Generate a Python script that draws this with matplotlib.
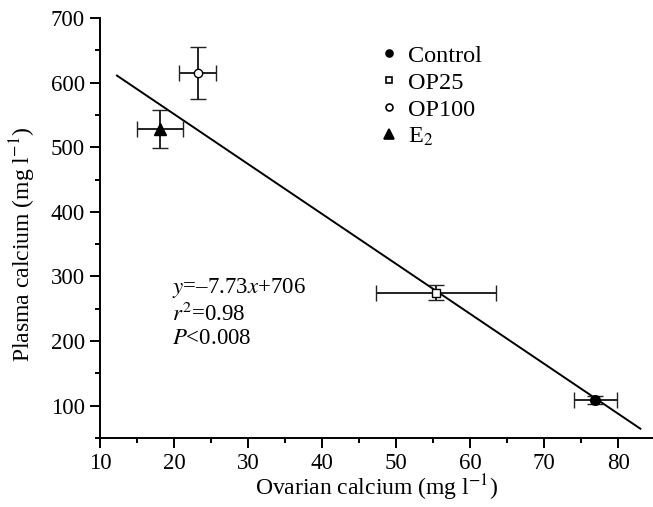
import matplotlib
matplotlib.use("Agg")
import matplotlib.pyplot as plt
from matplotlib.ticker import MultipleLocator
from matplotlib.lines import Line2D

plt.rcParams['font.family'] = ['Liberation Serif', 'DejaVu Serif']
plt.rcParams['mathtext.fontset'] = 'stix'

# group means and errors
groups = ["Control", "OP25", "OP100", "E$_2$"]
ovarian = [76.9, 55.4, 23.2, 18.1]
ovarian_err = [2.9, 8.1, 2.5, 3.1]
plasma = [109, 275, 615, 528]
plasma_err = [6, 12, 40, 29]
markers = ["o", "s", "o", "^"]
filled = [True, False, False, True]
sizes = [7, 5.5, 6, 8]

# regression line
slope, intercept = -7.73, 706
fit_x = [12.3, 83]

fig = plt.figure(figsize=(6.53, 5.07), dpi=100)
ax = fig.add_axes([0.153, 0.136, 0.847, 0.8285])

for i in range(len(groups)):
    ax.errorbar(ovarian[i], plasma[i], xerr=ovarian_err[i], yerr=plasma_err[i],
                fmt=markers[i], ms=sizes[i], mfc="black" if filled[i] else "white",
                mec="black", mew=1, ecolor="#222222", elinewidth=1.4,
                capsize=6, capthick=1.4, zorder=3)

ax.plot(fit_x, [slope * v + intercept for v in fit_x], color="black", lw=1.4, zorder=2)

ax.set_xlim(10, 84.7)
ax.set_ylim(50, 700)
ax.xaxis.set_major_locator(MultipleLocator(10))
ax.xaxis.set_minor_locator(MultipleLocator(5))
ax.yaxis.set_major_locator(MultipleLocator(100))
ax.yaxis.set_minor_locator(MultipleLocator(50))
ax.tick_params(which="major", direction="out", length=7, width=1.4, labelsize=16.5, pad=4)
ax.tick_params(which="minor", direction="out", length=3.6, width=1.4)
for s in ["top", "right"]:
    ax.spines[s].set_visible(False)
for s in ["left", "bottom"]:
    ax.spines[s].set_linewidth(1.4)

ax.set_xlabel("Ovarian calcium (mg l$^{-1}$)", fontsize=17)
ax.xaxis.set_label_coords(0.5, -0.083)
ax.set_ylabel("Plasma calcium (mg l$^{-1}$)", fontsize=17)
ax.yaxis.set_label_coords(-0.112, 0.46)

handles = [Line2D([], [], ls="none", marker=markers[i], ms=5 if i < 3 else 7,
                  mfc="black" if filled[i] else "white", mec="black", mew=1.2)
           for i in range(len(groups))]
ax.legend(handles, groups, loc="upper left", bbox_to_anchor=(0.474, 0.971), frameon=False,
          fontsize=17.5, handletextpad=0.3, labelspacing=0.2,
          handlelength=1.0, borderaxespad=0.2)

ax.text(19.7, 301, "$y$=–7.73$x$+706\n$r^2$=0.98\n$P$<0.008", fontsize=16.5,
        va="top", ha="left", linespacing=1.15)

fig.savefig("out.png", dpi=100)
